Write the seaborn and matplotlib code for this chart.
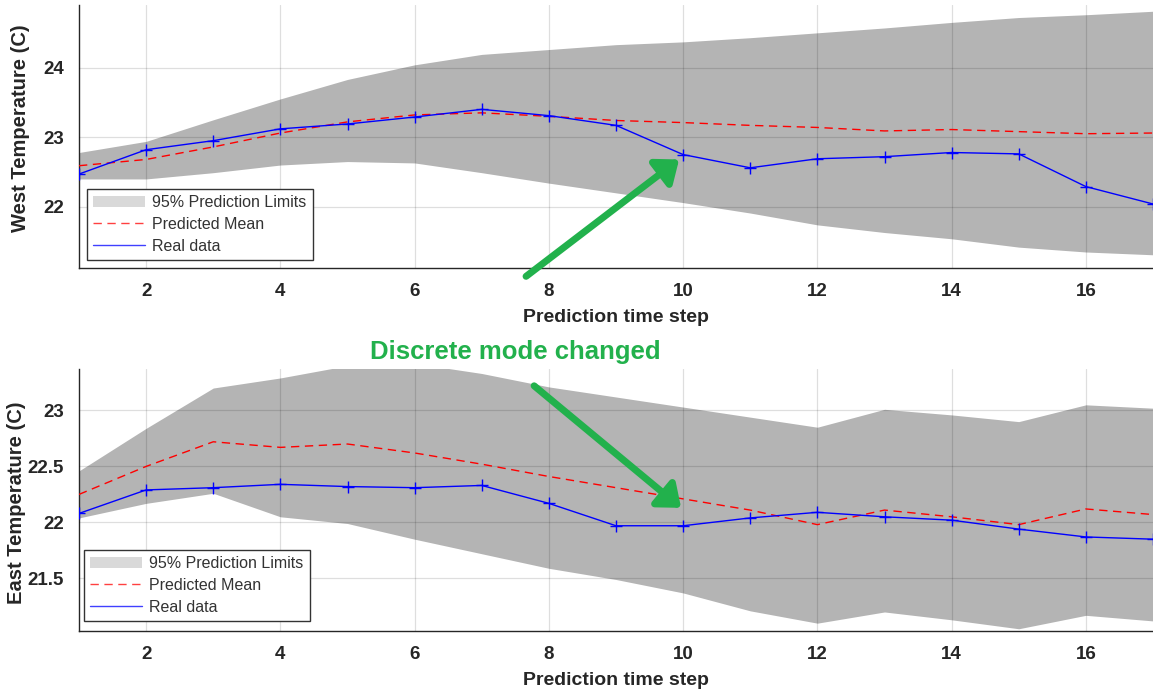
import numpy as np
import pandas as pd
import matplotlib
matplotlib.use("Agg")
import matplotlib.pyplot as plt
import seaborn as sns
from matplotlib.patches import Patch
from matplotlib.lines import Line2D

# ---------------- data ----------------
steps = list(range(1, 18))

west_real = [22.47, 22.82, 22.95, 23.12, 23.19, 23.29, 23.40, 23.31, 23.17,
             22.75, 22.56, 22.69, 22.72, 22.78, 22.76, 22.29, 22.04]
west_mean = [22.59, 22.68, 22.86, 23.06, 23.22, 23.32, 23.35, 23.30, 23.24,
             23.21, 23.17, 23.14, 23.09, 23.11, 23.08, 23.05, 23.06]
west_upper = [22.78, 22.94, 23.25, 23.55, 23.83, 24.04, 24.19, 24.26, 24.33,
              24.37, 24.43, 24.50, 24.57, 24.65, 24.72, 24.76, 24.81]
west_lower = [22.40, 22.40, 22.49, 22.60, 22.65, 22.63, 22.49, 22.34, 22.20,
              22.06, 21.91, 21.74, 21.63, 21.54, 21.42, 21.35, 21.31]

east_real = [22.08, 22.29, 22.31, 22.34, 22.32, 22.31, 22.33, 22.17, 21.97,
             21.97, 22.04, 22.09, 22.05, 22.02, 21.94, 21.87, 21.85]
east_mean = [22.25, 22.50, 22.72, 22.67, 22.70, 22.62, 22.52, 22.41, 22.31,
             22.21, 22.11, 21.98, 22.11, 22.05, 21.98, 22.12, 22.07]
east_upper = [22.46, 22.84, 23.20, 23.29, 23.40, 23.42, 23.33, 23.21, 23.12,
              23.03, 22.94, 22.85, 23.01, 22.96, 22.90, 23.05, 23.02]
east_lower = [22.04, 22.17, 22.26, 22.05, 21.99, 21.85, 21.72, 21.59, 21.49,
              21.37, 21.21, 21.10, 21.20, 21.13, 21.05, 21.17, 21.12]

x_ticks = [2, 4, 6, 8, 10, 12, 14, 16]
west_yticks = [22, 23, 24]
west_yticklabels = ["22", "23", "24"]
east_yticks = [21.5, 22, 22.5, 23]
east_yticklabels = ["21.5", "22", "22.5", "23"]

legend_labels = ["95% Prediction Limits", "Predicted Mean", "Real data"]
annotation_text = "Discrete mode changed"

# ---------------- style ----------------
sns.set_style("white")
plt.rcParams["font.family"] = ["Liberation Sans", "DejaVu Sans"]

BAND = "#b4b4b4"
BAND_LEG = "#d9d9d9"
TXT = "#262626"
GREEN = "#22b14c"

W, H = 1153, 691
fig = plt.figure(figsize=(W / 100, H / 100), dpi=100)
ax1 = fig.add_axes([79 / W, 1 - 268 / H, (W - 79) / W, 263 / H])
ax2 = fig.add_axes([79 / W, 1 - 631 / H, (W - 79) / W, 262 / H])


def draw(ax, real, mean, upper, lower, ylim, yticks, yticklabels, ylabel,
         leg_off, ylab_pos):
    df = pd.DataFrame({"step": steps, "real": real, "mean": mean})
    ax.fill_between(steps, lower, upper, color=BAND, linewidth=0, zorder=1)
    sns.lineplot(data=df, x="step", y="mean", ax=ax, color="#ff0000",
                 linestyle=(0, (6, 4)), linewidth=1.0, zorder=3)
    sns.lineplot(data=df, x="step", y="real", ax=ax, color="#0000ff",
                 linewidth=1.0, marker="+", markersize=9, markeredgewidth=1.0,
                 markeredgecolor="#0000ff", zorder=4)
    ax.set_xlim(1, 17)
    ax.set_ylim(*ylim)
    ax.set_xticks(x_ticks)
    ax.set_yticks(yticks)
    ax.set_yticklabels(yticklabels)
    ax.grid(True, color="black", alpha=0.13, linewidth=0.9, zorder=5)
    ax.set_axisbelow(False)
    for s in ["top", "right"]:
        ax.spines[s].set_visible(False)
    for s in ["left", "bottom"]:
        ax.spines[s].set_color(TXT)
        ax.spines[s].set_linewidth(1.0)
    ax.tick_params(direction="in", length=6, width=1, colors=TXT,
                   labelsize=13.5, pad=11)
    for lab in ax.get_xticklabels() + ax.get_yticklabels():
        lab.set_fontweight("bold")
    ax.set_xlabel("Prediction time step", fontsize=14, fontweight="bold",
                  color=TXT, labelpad=6)
    ax.set_ylabel(ylabel, fontsize=14.5, fontweight="bold", color=TXT)
    ax.yaxis.set_label_coords(*ylab_pos)
    handles = [Patch(facecolor=BAND_LEG, edgecolor="none"),
               Line2D([0], [0], color="#ff4040", linestyle=(0, (6, 4)), lw=1.0),
               Line2D([0], [0], color="#4040ff", lw=1.0)]
    leg = ax.legend(handles, legend_labels, loc="lower left",
                    bbox_to_anchor=leg_off, borderaxespad=0, fancybox=False,
                    framealpha=1, edgecolor="#333333", fontsize=11.5,
                    handlelength=3.2, handletextpad=0.5, borderpad=0.4,
                    labelspacing=0.42)
    leg.get_frame().set_linewidth(1.0)
    for t in leg.get_texts():
        t.set_color("#333333")
    leg.set_zorder(10)


draw(ax1, west_real, west_mean, west_upper, west_lower, (21.12, 24.9),
     west_yticks, west_yticklabels, "West Temperature (C)", (8 / 1074, 8 / 263),
     ((30 - 79) / 1074, 0.53))
draw(ax2, east_real, east_mean, east_upper, east_lower, (21.03, 23.37),
     east_yticks, east_yticklabels, "East Temperature (C)", (5 / 1074, 10 / 262),
     ((26 - 79) / 1074, 0.49))

# annotations
arrow = dict(arrowstyle="-|>,head_length=0.5,head_width=0.4", color=GREEN,
             lw=5, mutation_scale=25, shrinkA=0, shrinkB=0)
ax1.annotate("", xy=(9.94, 22.68), xytext=(7.66, 21.0), arrowprops=arrow,
             annotation_clip=False, zorder=20)
ax2.annotate("", xy=(9.97, 22.13), xytext=(7.78, 23.22), arrowprops=arrow,
             annotation_clip=False, zorder=20)
fig.text(515 / W, 1 - 352 / H, annotation_text, color=GREEN, fontsize=18.5,
         fontweight="bold", ha="center", va="center")

fig.savefig("out.png", dpi=100)
